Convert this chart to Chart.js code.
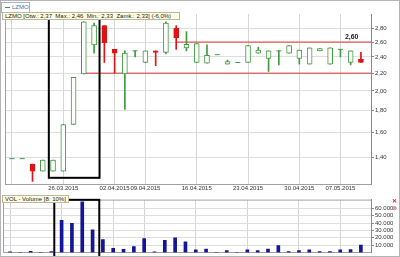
<!DOCTYPE html>
<html>
<head>
<meta charset="utf-8">
<script src="https://cdn.jsdelivr.net/npm/chart.js@4.4.1/dist/chart.umd.min.js"></script>
<style>
    html, body { margin: 0; padding: 0; background: #fff; }
    #wrap { position: relative; width: 400px; height: 257px; overflow: hidden; font-family: "Liberation Sans", Arial, sans-serif; }
    #wrap .frame { position: absolute; left: 0; top: 0; width: 398px; height: 255px; border: 1px solid #b4b4b4; pointer-events: none; }
    #main { position: absolute; left: 0; top: 0; }
    #vol { position: absolute; left: 0; top: 195px; }
    .tag { position: absolute; background: #fffde2; border: 1px solid #bdb89c; font-size: 6px; color: #222; line-height: 6px; padding: 0 2px; white-space: pre; }
    .legend { position: absolute; left: 1px; top: 2px; width: 27px; height: 9px; border: 1px solid #a9b0ba; background: #fff; font-size: 6px; line-height: 9px; color: #44709c; white-space: pre; }
    .legend i { display: inline-block; width: 5px; height: 1px; background: #3c9a3c; vertical-align: middle; margin: 0 2px 0 3px; }
    .icon { position: absolute; left: 392px; font-size: 6px; line-height: 6px; font-weight: bold; }
</style>
</head>
<body>
<div id="wrap">
    <canvas id="main" width="400" height="195"></canvas>
    <canvas id="vol" width="400" height="62"></canvas>
    <div class="legend"><i></i>LZMO</div>
    <div class="tag" style="left:2px; top:12px; width:172px;">LZMO [Otw.: 2,37  Max.: 2,46  Min.: 2,33  Zamk.: 2,33] (-6,0%)</div>
    <div class="tag" style="left:2px; top:195px;">VOL - Volume [8: 10%]</div>
    <div class="icon" style="top:198px; color:#d02020;">✕</div>
    <div class="icon" style="top:205px; color:#c87890;">⊗</div>
    <div class="frame"></div>
</div>
<script>
const dates = ["19.03.2015", "20.03.2015", "23.03.2015", "24.03.2015", "25.03.2015", "26.03.2015", "27.03.2015",
    "30.03.2015", "31.03.2015", "01.04.2015", "02.04.2015", "07.04.2015", "08.04.2015", "09.04.2015", "10.04.2015",
    "13.04.2015", "14.04.2015", "15.04.2015", "16.04.2015", "17.04.2015", "20.04.2015", "21.04.2015", "22.04.2015",
    "23.04.2015", "24.04.2015", "27.04.2015", "28.04.2015", "29.04.2015", "30.04.2015", "04.05.2015", "05.05.2015",
    "06.05.2015", "07.05.2015", "08.05.2015", "11.05.2015"]
const opens  = [1.39, 1.39, 1.35, 1.30, 1.30, 1.30, 1.67, 2.19, 2.56, 2.84, 2.50, 2.19, 2.48, 2.33, 2.48, 2.46, 2.80, 2.52,
    2.33, 2.32, 2.43, 2.31, 2.33, 2.33, 2.45, 2.38, 2.48, 2.45, 2.38, 2.31, 2.48, 2.31, 2.50, 2.33, 2.37]
const highs  = [1.39, 1.39, 1.35, 1.38, 1.38, 1.67, 2.15, 2.90, 2.88, 2.84, 2.50, 2.48, 2.48, 2.48, 2.48, 2.90, 2.84, 2.75,
    2.58, 2.56, 2.43, 2.36, 2.33, 2.55, 2.53, 2.48, 2.48, 2.55, 2.49, 2.52, 2.51, 2.52, 2.50, 2.48, 2.46]
const lows   = [1.39, 1.39, 1.23, 1.30, 1.30, 1.30, 1.67, 2.19, 2.45, 2.33, 2.20, 1.81, 2.40, 2.33, 2.29, 2.44, 2.50, 2.48,
    2.33, 2.32, 2.43, 2.31, 2.33, 2.33, 2.45, 2.22, 2.30, 2.45, 2.31, 2.31, 2.48, 2.31, 2.40, 2.30, 2.33]
const closes = [1.39, 1.39, 1.30, 1.38, 1.38, 1.67, 2.15, 2.90, 2.84, 2.59, 2.45, 2.45, 2.48, 2.48, 2.46, 2.88, 2.66, 2.57,
    2.58, 2.42, 2.43, 2.34, 2.33, 2.55, 2.49, 2.48, 2.48, 2.55, 2.49, 2.52, 2.51, 2.52, 2.50, 2.48, 2.33]
const volumes = [800, 0, 1300, 0, 1100, 43800, 39500, 69000, 30700, 17500, 5700, 4300, 7900, 18800, 800, 16600, 19700,
    14500, 3400, 4600, 0, 2600, 0, 3400, 2600, 4600, 9200, 1000, 2600, 3400, 1000, 1000, 3400, 4000, 10000]

const priceTicks = [1.4, 1.6, 1.8, 2.0, 2.2, 2.4, 2.6, 2.8]
const volTicks = [10000, 20000, 30000, 40000, 50000, 60000]
const tickIdx = [0, 5, 10, 13, 18, 23, 28, 32]
const tickLabels = ["", "26.03.2015", "02.04.2015", "09.04.2015", "16.04.2015", "23.04.2015", "30.04.2015", "07.05.2015"]

// support / resistance drawn on the chart
const levelLow = 2.2
const levelLowFrom = 7
const levelHigh = 2.6
const levelHighFrom = 16

const GREEN = "#3f9b3f"
const RED = "#dc1414"
const GRID = "#dedede"
const FONT = { family: "'Liberation Sans', Arial, sans-serif", size: 6 }

Chart.defaults.animation = false
Chart.defaults.font.family = FONT.family

const bodies = [], bodyFill = [], bodyLine = []
const wicks = [], wickColor = []
const dojis = []
dates.forEach((d, i) => {
    const down = closes[i] < opens[i]
    if (highs[i] > lows[i]) {
        wicks.push({ x: i, y: [lows[i], highs[i]] })
        wickColor.push(down ? RED : GREEN)
    }
    if (opens[i] != closes[i]) {
        bodies.push({ x: i, y: [opens[i], closes[i]] })
        bodyFill.push(down ? RED : "#fff")
        bodyLine.push(down ? RED : GREEN)
    } else {
        dojis.push({ x: i, y: opens[i] })
    }
})

function xScale(showLabels) {
    return {
        type: "linear",
        offset: false,
        min: -0.68,
        max: 34.98,
        afterBuildTicks: (s) => {
            s.ticks = tickIdx.map((v) => ({ value: v }))
        },
        ticks: {
            display: showLabels,
            autoSkip: false,
            maxRotation: 0,
            padding: 1,
            color: "#333",
            font: FONT,
            callback: (v, i) => tickLabels[i],
        },
        grid: { color: "#d6d6d6", drawTicks: false, offset: false },
        border: { display: true, color: "#a0a0a0" },
        afterFit: (s) => {
            s.height = showLabels ? 11 : 3
        },
    }
}

const mainExtras = {
    id: "mainExtras",
    afterDatasetsDraw(chart) {
        const { ctx, chartArea, scales } = chart
        const x = scales.x, y = scales.y
        ctx.save()
        ctx.strokeStyle = "#a0a0a0"
        ctx.lineWidth = 1
        ctx.beginPath()
        ctx.moveTo(chartArea.left + 0.5, chartArea.top)
        ctx.lineTo(chartArea.left + 0.5, chartArea.bottom)
        ctx.stroke()

        ctx.fillStyle = "#222"
        ctx.font = "bold 7px 'Liberation Sans', Arial, sans-serif"
        ctx.textAlign = "center"
        ctx.textBaseline = "bottom"
        ctx.fillText("2,60", x.getPixelForValue(33.1), y.getPixelForValue(levelHigh) - 2)

        // hand drawn box round the breakout
        ctx.strokeStyle = "#000"
        ctx.lineWidth = 2
        const l = x.getPixelForValue(3.59), r = x.getPixelForValue(8.53)
        const b = y.getPixelForValue(1.254)
        ctx.strokeRect(l, chartArea.top, r - l, b - chartArea.top)
        ctx.restore()
    },
}

new Chart(document.getElementById("main"), {
    type: "bar",
    plugins: [mainExtras],
    data: {
        datasets: [
            {
                data: bodies,
                backgroundColor: bodyFill,
                borderColor: bodyLine,
                borderWidth: 1,
                borderSkipped: false,
                barThickness: 5,
                grouped: false,
            },
            {
                type: "scatter",
                data: dojis,
                pointStyle: "line",
                pointRadius: 2.5,
                borderColor: GREEN,
                borderWidth: 1,
            },
            {
                data: wicks,
                backgroundColor: wickColor,
                borderWidth: 0,
                barThickness: 1,
                grouped: false,
            },
            {
                type: "line",
                data: [{ x: levelLowFrom, y: levelLow }, { x: 36, y: levelLow }],
                borderColor: "#e03030",
                borderWidth: 1,
                pointRadius: 0,
            },
            {
                type: "line",
                data: [{ x: levelHighFrom, y: levelHigh }, { x: 36, y: levelHigh }],
                borderColor: "#e03030",
                borderWidth: 1,
                pointRadius: 0,
            },
        ],
    },
    options: {
        responsive: false,
        layout: { padding: { top: 14, left: 3, right: 0, bottom: 0 } },
        plugins: { legend: { display: false }, tooltip: { enabled: false } },
        events: [],
        scales: {
            x: xScale(true),
            y: {
                type: "logarithmic",
                position: "right",
                min: 1.213,
                max: 3.023,
                afterBuildTicks: (s) => {
                    s.ticks = priceTicks.map((v) => ({ value: v }))
                },
                ticks: {
                    autoSkip: false,
                    padding: 1,
                    color: "#333",
                    font: FONT,
                    callback: (v) => Number(v).toFixed(2).replace(".", ","),
                },
                grid: { color: GRID, tickLength: 3, tickColor: "#888" },
                border: { display: true, color: "#8a8a8a" },
                afterFit: (s) => {
                    s.width = 29
                },
            },
        },
    },
})

const volExtras = {
    id: "volExtras",
    afterDatasetsDraw(chart) {
        const { ctx, chartArea, scales } = chart
        const x = scales.x, y = scales.y
        ctx.save()
        ctx.strokeStyle = "#a0a0a0"
        ctx.lineWidth = 1
        ctx.beginPath()
        ctx.moveTo(chartArea.left + 0.5, chartArea.top)
        ctx.lineTo(chartArea.left + 0.5, chartArea.bottom)
        ctx.moveTo(chartArea.left, chartArea.top + 0.5)
        ctx.lineTo(chartArea.right, chartArea.top + 0.5)
        ctx.stroke()

        ctx.strokeStyle = "#000"
        ctx.lineWidth = 2
        const l = x.getPixelForValue(4.29), r = x.getPixelForValue(8.65)
        const t = y.getPixelForValue(71700)
        ctx.strokeRect(l, t, r - l, chart.height + 4 - t)
        ctx.restore()
    },
}

new Chart(document.getElementById("vol"), {
    type: "bar",
    plugins: [volExtras],
    data: {
        datasets: [
            {
                data: volumes.map((v, i) => ({ x: i, y: v })),
                backgroundColor: "#15159a",
                barThickness: 3,
            },
        ],
    },
    options: {
        responsive: false,
        layout: { padding: { top: 4, left: 3, right: 0, bottom: 0 } },
        plugins: { legend: { display: false }, tooltip: { enabled: false } },
        events: [],
        scales: {
            x: xScale(false),
            y: {
                position: "right",
                min: 0,
                max: 72000,
                afterBuildTicks: (s) => {
                    s.ticks = volTicks.map((v) => ({ value: v }))
                },
                ticks: {
                    autoSkip: false,
                    padding: 1,
                    color: "#333",
                    font: FONT,
                    callback: (v) => v / 1000 + ".000",
                },
                grid: { color: GRID, tickLength: 3, tickColor: "#888" },
                border: { display: true, color: "#8a8a8a" },
                afterFit: (s) => {
                    s.width = 29
                },
            },
        },
    },
})
</script>
</body>
</html>
